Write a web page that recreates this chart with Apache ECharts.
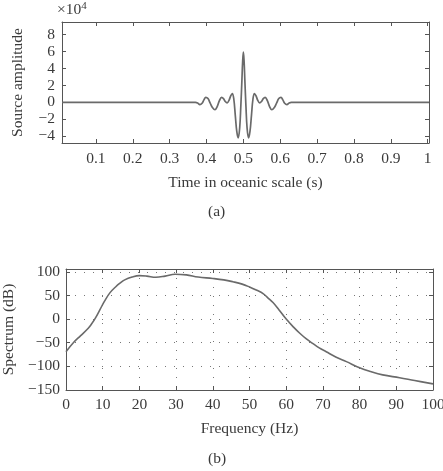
<!DOCTYPE html>
<html>
<head>
<meta charset="utf-8">
<script src="https://cdn.jsdelivr.net/npm/echarts@6/dist/echarts.min.js"></script>
<style>
  html, body { margin: 0; padding: 0; background: #fff; }
  #chart { width: 443px; height: 471px; }
</style>
</head>
<body>
<div id="chart"></div>
<script>
// (a) source wavelet, amplitude in units of 1e4
const timeS = [0.008, 0.37, 0.376, 0.382, 0.388, 0.393, 0.398, 0.404, 0.410, 0.416, 0.423, 0.429, 0.435, 0.441, 0.446, 0.451, 0.456, 0.461, 0.466, 0.470, 0.474, 0.478, 0.482, 0.486, 0.490, 0.493, 0.496, 0.498, 0.500,
  0.502, 0.504, 0.507, 0.510, 0.514, 0.518, 0.522, 0.526, 0.530, 0.534, 0.539, 0.544, 0.549, 0.554, 0.559, 0.565, 0.571, 0.577, 0.584, 0.590, 0.596, 0.602, 0.607, 0.612, 0.618, 0.624, 0.63, 1.0035]
const amplitude = [0, 0, -0.08, -0.27, -0.1, 0.3, 0.6, 0.45, -0.1, -0.6, -0.87, -0.5, 0.2, 0.6, 0.45, 0.1, -0.05, 0.25, 0.8, 1.05, 0.4, -1.5, -3.4, -4.2, -3.0, -0.5, 2.6, 4.8, 5.95,
  4.8, 2.6, -0.5, -3.0, -4.2, -3.4, -1.5, 0.4, 1.05, 0.8, 0.25, -0.05, 0.1, 0.45, 0.6, 0.2, -0.5, -0.87, -0.6, -0.1, 0.45, 0.6, 0.3, -0.1, -0.27, -0.08, 0, 0]
const timeTicks = [0.1, 0.2, 0.3, 0.4, 0.5, 0.6, 0.7, 0.8, 0.9, 1]
const ampTicks = [-4, -2, 0, 2, 4, 6, 8]

// (b) spectrum in dB
const freqHz = [0, 2, 4, 6, 7, 8, 9.25, 10.5, 12, 13.5, 14.7, 16, 18, 20, 22, 24.5, 27, 29.7, 32.8, 36, 40, 43, 45.5, 48, 50, 52, 53.7, 55, 56.4, 58, 60, 62, 63.7, 65.5, 67.3, 69, 70.9, 73.5, 76.4, 80, 83, 86.3, 90.9, 95, 100]
const spectrumDb = [-69, -50, -35, -20, -10, 2, 20, 38, 56, 68, 76, 83, 89, 92, 91, 88.5, 91, 95, 93.5, 89, 86, 83, 79, 74, 68, 61, 54, 45, 35, 20, 0, -17, -30, -42, -52, -61, -69, -80, -90, -103, -111, -118, -124, -130, -137]

const font = 'Liberation Serif'
const textColor = '#3a3a3a'
const boxColor = '#555'
const minus = v => String(v).replace('-', '\u2212')

const chart = echarts.init(document.getElementById('chart'))

const tickStyle = { show: true, inside: true, length: 4, lineStyle: { color: boxColor } }
const labelStyle = { fontFamily: font, fontSize: 15.5, color: textColor }
const boxLine = { show: true, onZero: false, lineStyle: { color: boxColor, width: 1 } }
const dotted = { show: true, lineStyle: { color: '#777', type: [1, 8], width: 1 } }

chart.setOption({
  animation: false,
  grid: [
    { left: 62, top: 22, width: 367, height: 121, outerBoundsMode: 'none' },
    { left: 66, top: 269, width: 367, height: 121, outerBoundsMode: 'none' },
  ],
  xAxis: [
    {
      gridIndex: 0, type: 'value', min: 0.008, max: 1.0035,
      name: 'Time in oceanic scale (s)', nameLocation: 'middle', nameGap: 32,
      nameTextStyle: labelStyle,
      axisLine: boxLine,
      axisTick: { ...tickStyle, customValues: timeTicks },
      axisLabel: { ...labelStyle, margin: 8, customValues: timeTicks },
      splitLine: { show: false },
    },
    {
      gridIndex: 0, type: 'value', position: 'top', min: 0.008, max: 1.0035,
      axisLine: boxLine,
      axisTick: { ...tickStyle, customValues: timeTicks },
      axisLabel: { show: false },
      splitLine: { show: false },
    },
    {
      gridIndex: 1, type: 'value', min: 0, max: 100, interval: 10,
      name: 'Frequency (Hz)', nameLocation: 'middle', nameGap: 31,
      nameTextStyle: labelStyle,
      axisLine: boxLine,
      axisTick: tickStyle,
      axisLabel: { ...labelStyle, margin: 7 },
      splitLine: dotted,
    },
    {
      gridIndex: 1, type: 'value', position: 'top', min: 0, max: 100, interval: 10,
      axisLine: boxLine,
      axisTick: tickStyle,
      axisLabel: { show: false },
      splitLine: { show: false },
    },
  ],
  yAxis: [
    {
      gridIndex: 0, type: 'value', min: -4.8, max: 9.5,
      name: 'Source amplitude', nameLocation: 'middle', nameGap: 36, nameRotate: 90,
      nameTextStyle: labelStyle,
      axisLine: boxLine,
      axisTick: { ...tickStyle, customValues: ampTicks },
      axisLabel: { ...labelStyle, margin: 7, customValues: ampTicks, formatter: minus },
      splitLine: { show: false },
    },
    {
      gridIndex: 0, type: 'value', position: 'right', min: -4.8, max: 9.5,
      axisLine: boxLine,
      axisTick: { ...tickStyle, customValues: ampTicks },
      axisLabel: { show: false },
      splitLine: { show: false },
    },
    {
      gridIndex: 1, type: 'value', min: -150, max: 106, interval: 50,
      name: 'Spectrum (dB)', nameLocation: 'middle', nameGap: 49, nameRotate: 90,
      nameTextStyle: labelStyle,
      axisLine: boxLine,
      axisTick: tickStyle,
      axisLabel: { ...labelStyle, margin: 6, formatter: minus },
      splitLine: dotted,
    },
    {
      gridIndex: 1, type: 'value', position: 'right', min: -150, max: 106, interval: 50,
      axisLine: boxLine,
      axisTick: tickStyle,
      axisLabel: { show: false },
      splitLine: { show: false },
    },
  ],
  series: [
    {
      type: 'line', xAxisIndex: 0, yAxisIndex: 0,
      data: timeS.map((t, i) => [t, amplitude[i]]),
      smooth: 0.4, showSymbol: false,
      lineStyle: { color: '#6a6a6a', width: 1.7 },
    },
    {
      type: 'line', xAxisIndex: 2, yAxisIndex: 2,
      data: freqHz.map((f, i) => [f, spectrumDb[i]]),
      smooth: 0.4, showSymbol: false,
      lineStyle: { color: '#6a6a6a', width: 1.6 },
    },
  ],
  graphic: [
    {
      type: 'text', left: 57, top: 1,
      style: {
        text: '\u00d710{s|4}', fontFamily: font, fontSize: 15.5, fill: textColor,
        rich: { s: { fontFamily: font, fontSize: 11, verticalAlign: 'top', padding: [0, 0, 7, 0] } },
      },
    },
    { type: 'text', left: 208, top: 204, style: { text: '(a)', fontFamily: font, fontSize: 15.5, fill: textColor } },
    { type: 'text', left: 208, top: 451, style: { text: '(b)', fontFamily: font, fontSize: 15.5, fill: textColor } },
  ],
})
</script>
</body>
</html>
